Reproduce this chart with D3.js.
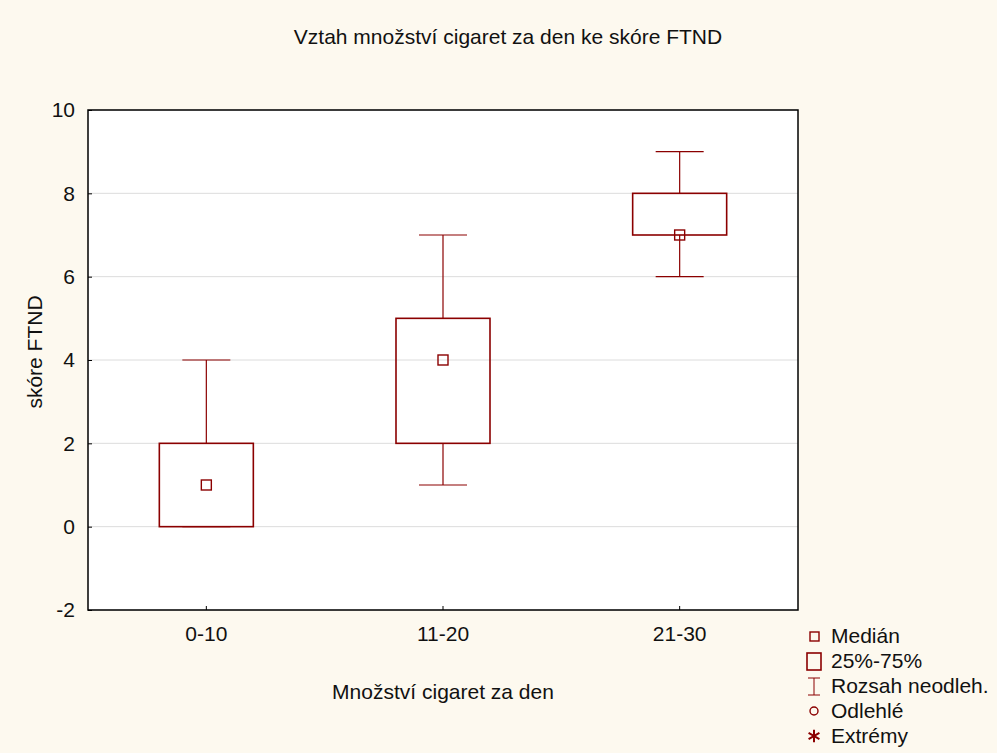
<!DOCTYPE html>
<html>
<head>
<meta charset="utf-8">
<script src="https://cdn.jsdelivr.net/npm/d3@7"></script>
<style>
  html, body { margin: 0; padding: 0; background: #fdf9ef; }
  svg { display: block; font-family: Arial, "Liberation Sans", sans-serif; }
</style>
</head>
<body>
<svg id="chart" width="997" height="753"></svg>
<script>
// Box plot data per group of cigarettes smoked a day
const categories = ["0-10", "11-20", "21-30"];
const mins      = [0, 1, 6];
const q1s       = [0, 2, 7];
const medians   = [1, 4, 7];
const q3s       = [2, 5, 8];
const maxs      = [4, 7, 9];
const yTicks    = [-2, 0, 2, 4, 6, 8, 10];
const legendItems = ["Medián", "25%-75%", "Rozsah neodleh.", "Odlehlé", "Extrémy"];

const boxColor = "#8b0000";
const fontSize = 21;
const svg = d3.select("#chart");

const plot = { left: 88, right: 798, top: 110, bottom: 610 };

const x = d3.scaleBand().domain(categories).range([plot.left, plot.right]);
const y = d3.scaleLinear().domain([-2, 10]).range([plot.bottom, plot.top]);

// plot background
svg.append("rect")
  .attr("x", plot.left).attr("y", plot.top)
  .attr("width", plot.right - plot.left).attr("height", plot.bottom - plot.top)
  .attr("fill", "#ffffff");

// horizontal grid
svg.append("g").selectAll("line").data(yTicks).join("line")
  .attr("x1", plot.left).attr("x2", plot.right)
  .attr("y1", d => y(d)).attr("y2", d => y(d))
  .attr("stroke", "#dcdcdc").attr("stroke-width", 1);

// y axis with inward ticks
const yAxis = svg.append("g")
  .attr("transform", `translate(${plot.left},0)`)
  .call(d3.axisLeft(y).tickValues(yTicks).tickSize(-4).tickPadding(13).tickFormat(d => String(d)));
yAxis.select(".domain").remove();
yAxis.selectAll(".tick line").attr("stroke", "#000");
yAxis.selectAll("text").attr("font-size", fontSize).attr("fill", "#111");

// x axis with inward ticks
const xAxis = svg.append("g")
  .attr("transform", `translate(0,${plot.bottom})`)
  .call(d3.axisBottom(x).tickSize(-4).tickPadding(16));
xAxis.select(".domain").remove();
xAxis.selectAll(".tick line").attr("stroke", "#000");
xAxis.selectAll("text").attr("font-size", fontSize).attr("fill", "#111");

// frame
svg.append("rect")
  .attr("x", plot.left).attr("y", plot.top)
  .attr("width", plot.right - plot.left).attr("height", plot.bottom - plot.top)
  .attr("fill", "none").attr("stroke", "#000").attr("stroke-width", 1.5);

// boxes
const boxW = 94, capW = 48, medS = 10;
const groups = svg.append("g").selectAll("g").data(categories).join("g")
  .attr("transform", d => `translate(${x(d) + x.bandwidth() / 2},0)`);

groups.each(function(d, i) {
  const g = d3.select(this);
  // whiskers
  g.append("line").attr("x1", 0).attr("x2", 0)
    .attr("y1", y(maxs[i])).attr("y2", y(q3s[i]))
    .attr("stroke", boxColor).attr("stroke-width", 1.2);
  g.append("line").attr("x1", 0).attr("x2", 0)
    .attr("y1", y(q1s[i])).attr("y2", y(mins[i]))
    .attr("stroke", boxColor).attr("stroke-width", 1.2);
  g.append("line").attr("x1", -capW / 2).attr("x2", capW / 2)
    .attr("y1", y(maxs[i])).attr("y2", y(maxs[i]))
    .attr("stroke", boxColor).attr("stroke-width", 1.2);
  g.append("line").attr("x1", -capW / 2).attr("x2", capW / 2)
    .attr("y1", y(mins[i])).attr("y2", y(mins[i]))
    .attr("stroke", boxColor).attr("stroke-width", 1.2);
  // box
  g.append("rect")
    .attr("x", -boxW / 2).attr("y", y(q3s[i]))
    .attr("width", boxW).attr("height", y(q1s[i]) - y(q3s[i]))
    .attr("fill", "none").attr("stroke", boxColor).attr("stroke-width", 1.6);
  // median
  g.append("rect")
    .attr("x", -medS / 2).attr("y", y(medians[i]) - medS / 2)
    .attr("width", medS).attr("height", medS)
    .attr("fill", "none").attr("stroke", boxColor).attr("stroke-width", 1.4);
});

// title and axis labels
svg.append("text").attr("x", 508).attr("y", 44).attr("text-anchor", "middle")
  .attr("font-size", fontSize).attr("fill", "#111").text("Vztah množství cigaret za den ke skóre FTND");
svg.append("text").attr("x", 443).attr("y", 699).attr("text-anchor", "middle")
  .attr("font-size", fontSize).attr("fill", "#111").text("Množství cigaret za den");
svg.append("text").attr("transform", `translate(42,${(plot.top + plot.bottom) / 2 - 8}) rotate(-90)`)
  .attr("text-anchor", "middle").attr("font-size", fontSize).attr("fill", "#111").text("skóre FTND");

// legend
const leg = svg.append("g").attr("transform", "translate(814,636)");
const rowH = 25;
legendItems.forEach((t, i) => {
  const gy = i * rowH;
  const row = leg.append("g").attr("transform", `translate(0,${gy})`);
  if (i === 0) {
    row.append("rect").attr("x", -4).attr("y", -4).attr("width", 9).attr("height", 9)
      .attr("fill", "none").attr("stroke", boxColor).attr("stroke-width", 1.4);
  } else if (i === 1) {
    row.append("rect").attr("x", -7).attr("y", -8).attr("width", 14).attr("height", 17)
      .attr("fill", "none").attr("stroke", boxColor).attr("stroke-width", 1.6);
  } else if (i === 2) {
    row.append("line").attr("x1", -6).attr("x2", 6).attr("y1", -8).attr("y2", -8).attr("stroke", boxColor);
    row.append("line").attr("x1", 0).attr("x2", 0).attr("y1", -8).attr("y2", 9).attr("stroke", boxColor);
    row.append("line").attr("x1", -6).attr("x2", 6).attr("y1", 9).attr("y2", 9).attr("stroke", boxColor);
  } else if (i === 3) {
    row.append("circle").attr("cx", 0).attr("cy", 0).attr("r", 4)
      .attr("fill", "none").attr("stroke", boxColor).attr("stroke-width", 1.4);
  } else {
    row.append("path").attr("d", d3.symbol(d3.symbolAsterisk, 110)())
      .attr("stroke", boxColor).attr("stroke-width", 2).attr("fill", "none");
  }
  row.append("text").attr("x", 17).attr("y", 7).attr("font-size", fontSize).attr("fill", "#111").text(t);
});
</script>
</body>
</html>
